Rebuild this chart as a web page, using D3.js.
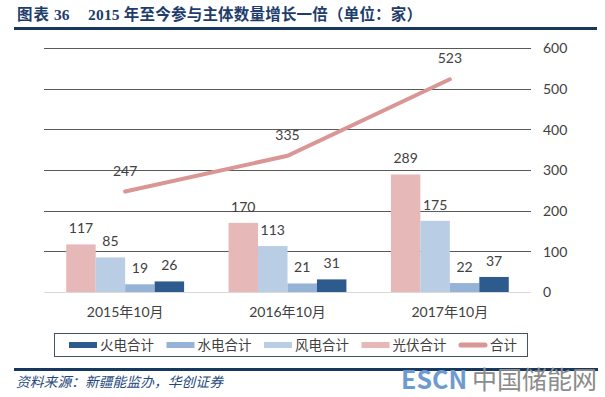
<!DOCTYPE html>
<html>
<head>
<meta charset="utf-8">
<script src="https://cdn.jsdelivr.net/npm/d3@7"></script>
<style>
  html, body { margin: 0; padding: 0; background: #fff; }
  svg { display: block; }
</style>
</head>
<body>
<script>
// ---- data ----
const categories = ["2015年10月", "2016年10月", "2017年10月"];
const solar   = [117, 170, 289];   // 光伏合计
const wind    = [85, 113, 175];    // 风电合计
const hydro   = [19, 21, 22];      // 水电合计
const thermal = [26, 31, 37];      // 火电合计
const total   = [247, 335, 523];   // 合计
const yTicks  = [0, 100, 200, 300, 400, 500, 600];
const legendLabels = ["火电合计", "水电合计", "风电合计", "光伏合计", "合计"];
const titleParts = ["图表", "36", "2015 年至今参与主体数量增长一倍（单位：家）"];
const sourceText = "资料来源：新疆能监办，华创证券";

// ---- setup ----
const W = 605, H = 397;
const svg = d3.select("body").append("svg").attr("width", W).attr("height", H);
const labelFont = "Lato, 'Noto Sans CJK SC', sans-serif";
const textColor = "#404040";

const barSeries = [
  { key: "光伏合计", values: solar,   color: "#E6B9B8" },
  { key: "风电合计", values: wind,    color: "#B9CDE5" },
  { key: "水电合计", values: hydro,   color: "#95B3D7" },
  { key: "火电合计", values: thermal, color: "#2E5B8E" }
];
const lineColor = "#D99694";

const x = d3.scaleBand().domain(categories).range([44, 531]).paddingInner(0.274).paddingOuter(0.137);
const xInner = d3.scaleBand().domain(barSeries.map(s => s.key)).range([0, x.bandwidth()]);
const y = d3.scaleLinear().domain([0, 600]).range([292, 48]);

// ---- title ----
const title = svg.append("text")
  .attr("y", 20)
  .attr("font-family", "'Liberation Serif', 'Noto Sans CJK SC', serif")
  .attr("font-weight", "bold")
  .attr("font-size", 15.5)
  .attr("fill", "#1F3D6B");
title.append("tspan").attr("x", 17).attr("letter-spacing", 1).text(titleParts[0]);
title.append("tspan").attr("x", 54).text(titleParts[1]);
title.append("tspan").attr("x", 88).attr("letter-spacing", 0.2).text(titleParts[2]);
svg.append("rect").attr("x", 14).attr("y", 27).attr("width", 583).attr("height", 3).attr("fill", "#17375E");

// ---- gridlines ----
svg.append("g").selectAll("line").data(yTicks).join("line")
  .attr("x1", 44).attr("x2", 531)
  .attr("y1", d => Math.round(y(d)) + 0.5).attr("y2", d => Math.round(y(d)) + 0.5)
  .attr("stroke", d => d === 0 ? "#D9D9D9" : "#5A5A5A")
  .attr("stroke-width", 1);

// ---- right axis ----
const yAxis = d3.axisRight(y).tickValues(yTicks).tickSize(0).tickPadding(0);
const gy = svg.append("g").attr("transform", "translate(543,0)").call(yAxis);
gy.select(".domain").remove();
gy.selectAll("text").attr("font-family", labelFont).attr("font-size", 14).attr("fill", textColor).attr("dy", "0.35em");

// ---- x axis labels ----
const xAxis = d3.axisBottom(x).tickSize(0).tickPadding(0);
const gx = svg.append("g").attr("transform", "translate(0,306)").call(xAxis);
gx.select(".domain").remove();
gx.selectAll("text").attr("font-family", labelFont).attr("font-size", 14).attr("fill", textColor).attr("dy", "0.75em");

// ---- bars ----
const groups = svg.append("g").selectAll("g").data(categories).join("g")
  .attr("transform", d => `translate(${x(d)},0)`);
barSeries.forEach(s => {
  groups.append("rect")
    .attr("x", xInner(s.key))
    .attr("width", xInner.bandwidth())
    .attr("y", (d, i) => y(s.values[i]))
    .attr("height", (d, i) => y(0) - y(s.values[i]))
    .attr("fill", s.color);
  groups.append("text")
    .attr("x", xInner(s.key) + xInner.bandwidth() / 2)
    .attr("y", (d, i) => y(s.values[i]) - 11)
    .attr("text-anchor", "middle")
    .attr("font-family", labelFont).attr("font-size", 14).attr("fill", textColor)
    .text((d, i) => s.values[i]);
});

// ---- line ----
const line = d3.line().x((d, i) => x(categories[i]) + x.bandwidth() / 2).y(d => y(d));
svg.append("path").datum(total)
  .attr("d", line)
  .attr("fill", "none").attr("stroke", lineColor).attr("stroke-width", 4).attr("stroke-linecap", "round");
svg.append("g").selectAll("text").data(total).join("text")
  .attr("x", (d, i) => x(categories[i]) + x.bandwidth() / 2)
  .attr("y", d => y(d) - 16)
  .attr("text-anchor", "middle")
  .attr("font-family", labelFont).attr("font-size", 14).attr("fill", textColor)
  .text(d => d);

// ---- legend ----
svg.append("rect").attr("x", 54.5).attr("y", 333.5).attr("width", 473).attr("height", 23)
  .attr("fill", "none").attr("stroke", "#3E5566").attr("stroke-width", 1);
const legendColors = ["#2E5B8E", "#95B3D7", "#B9CDE5", "#E6B9B8", lineColor];
const lg = svg.append("g").selectAll("g").data(legendLabels).join("g")
  .attr("transform", (d, i) => `translate(${69 + i * 97.5},345)`);
lg.each(function(d, i) {
  const g = d3.select(this);
  if (i < 4) {
    g.append("rect").attr("x", 0).attr("y", -3).attr("width", 28).attr("height", 6).attr("fill", legendColors[i]);
  } else {
    g.append("line").attr("x1", 2).attr("x2", 26).attr("y1", 0).attr("y2", 0)
      .attr("stroke", legendColors[i]).attr("stroke-width", 5).attr("stroke-linecap", "round");
  }
  g.append("text").attr("x", 31).attr("y", 0).attr("dy", "0.35em")
    .attr("font-family", "'Noto Sans CJK SC', sans-serif").attr("font-size", 13.5).attr("fill", textColor)
    .text(d);
});

// ---- footer ----
svg.append("rect").attr("x", 14).attr("y", 368).attr("width", 584).attr("height", 3).attr("fill", "#17375E");
svg.append("text").attr("x", 16).attr("y", 387)
  .attr("font-family", "'Noto Sans CJK SC', sans-serif")
  .attr("font-style", "italic").attr("font-size", 13.8).attr("fill", "#1F497D")
  .text(sourceText);
const wm = svg.append("text").attr("x", 401).attr("y", 389)
  .attr("font-family", "'Noto Sans CJK SC', sans-serif").attr("font-weight", "bold").attr("font-size", 25);
wm.append("tspan").attr("fill", "#6D9BD0").text("ESCN");
wm.append("tspan").attr("fill", "#8C8C8C").attr("font-weight", "normal").attr("dx", 5).text("中国储能网");
</script>
</body>
</html>
